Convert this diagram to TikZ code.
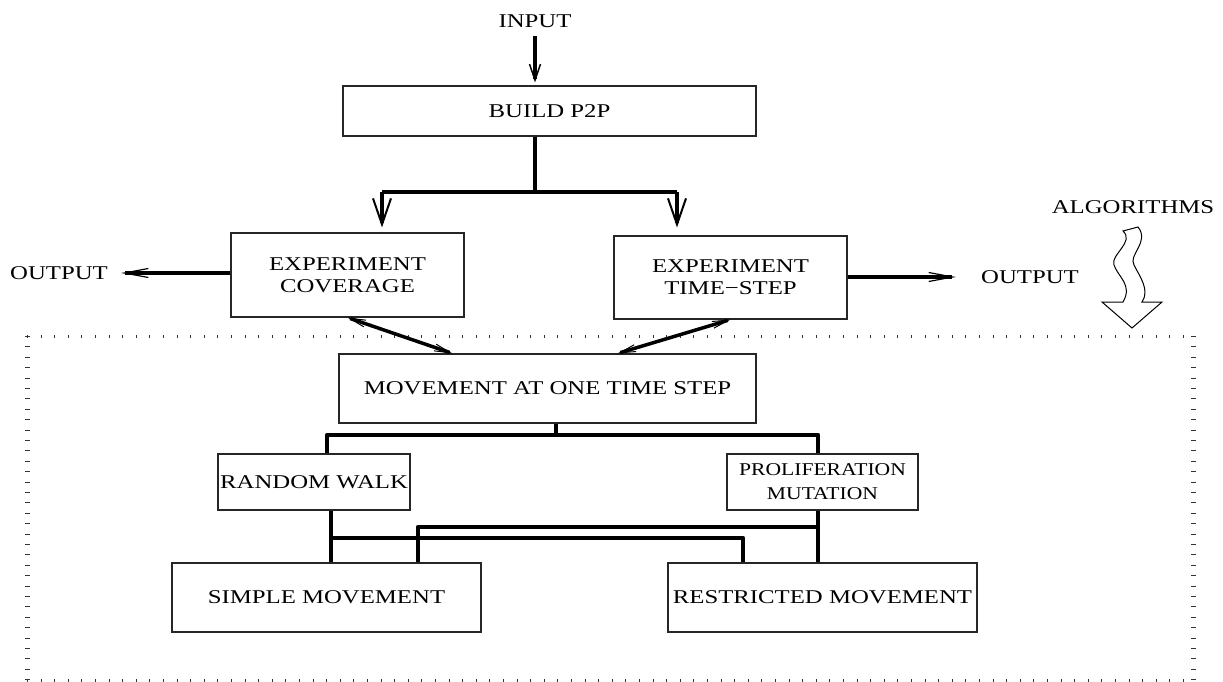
\documentclass[tikz,border=0pt]{standalone}
\usepackage{fontspec}
\setmainfont[FakeStretch=1.27]{Liberation Serif}
\newfontfamily\prolfont[FakeStretch=1.2]{Liberation Serif}
\usetikzlibrary{arrows.meta}

\begin{document}
\begin{tikzpicture}[%
    x=1pt, y=-1pt,
    font=\fontsize{19.5}{22}\selectfont,
    box/.style={draw=black!85, line width=1.1pt, rectangle, inner sep=0pt, align=center},
    tag/.style={inner sep=0pt},
    bus/.style={line width=4.3pt, line join=round},
    drop/.style={bus, -{Straight Barb[length=26pt, width=18pt, line width=2pt]}},
    feed/.style={line width=4pt, -{Straight Barb[length=16pt, width=11pt, line width=1.5pt]}},
    outarrow/.style={line width=4pt, -{Straight Barb[length=24pt, width=9pt, line width=1.2pt]}},
    link/.style={line width=3.5pt, {Straight Barb[length=16pt, width=7pt, line width=1pt]}-{Straight Barb[length=16pt, width=7pt, line width=1pt]}},
    algoframe/.style={line width=3pt, dash pattern=on 1pt off 12.6pt, black!80}
  ]
  \useasboundingbox (0,0) rectangle (1223,682);

  % dotted frame round the algorithms
  \draw[algoframe] (27,336) -- (1193,336) (27,680) -- (1193,680);
  \draw[algoframe, line width=5pt, dash pattern=on 1pt off 9.4pt] (27,336) -- (27,680) (1193,336) -- (1193,680);

  \node[tag] (input) at (535,21) {INPUT};
  \node[box, minimum width=413pt, minimum height=50pt] (build) at (549.5,111) {BUILD P2P};
  \node[box, minimum width=233pt, minimum height=84pt] (cov) at (347.5,275) {EXPERIMENT\\COVERAGE};
  \node[box, minimum width=233pt, minimum height=83pt] (tstep) at (730.5,277.5) {EXPERIMENT\\TIME−STEP};
  \node[tag] (outl) at (59,273) {OUTPUT};
  \node[tag] (outr) at (1030,277) {OUTPUT};
  \node[tag] (algo) at (1133,207) {ALGORITHMS};

  \node[box, minimum width=417pt, minimum height=69pt] (move) at (547.5,388.5) {MOVEMENT AT ONE TIME STEP};
  \node[box, minimum width=192pt, minimum height=56pt] (walk) at (314,482) {RANDOM WALK};
  \node[box, minimum width=191pt, minimum height=56pt, font=\prolfont\fontsize{18}{24}\selectfont] (prolif) at (822.5,482) {PROLIFERATION\\MUTATION};
  \node[box, minimum width=309pt, minimum height=69pt] (simple) at (326.5,597.5) {SIMPLE MOVEMENT};
  \node[box, minimum width=309pt, minimum height=69pt] (restr) at (822.5,597.5) {RESTRICTED MOVEMENT};

  \coordinate (split) at (535,192);
  \coordinate (bl) at (382,192);
  \coordinate (br) at (677,192);
  \coordinate (mj) at (556,435);
  \coordinate (wj) at (327,435);
  \coordinate (pj) at (818,435);
  \coordinate (wd) at (331,538);
  \coordinate (rd) at (743,538);
  \coordinate (pd) at (818,527);
  \coordinate (sd) at (418,527);

  % top part
  \draw[feed, shorten <=8pt, shorten >=3pt] (input.south) -- (input.south |- build.north);
  \draw[bus] (build.south -| split) -- (split);
  \draw[bus] (bl) -- (br);
  \draw[drop, shorten >=5pt] (bl) -- (bl |- cov.north);
  \draw[drop, shorten >=8pt] (br) -- (br |- tstep.north);
  \draw[outarrow, shorten >=13pt] (cov.west |- outl) -- (outl.east);
  \draw[outarrow, shorten >=25pt] (tstep.east |- outr) -- (outr.west);
  \draw[link] (cov.south) -- ([xshift=114pt]move.north west);
  \draw[link] (tstep.south) -- ([xshift=-139pt]move.north east);

  % wavy input arrow
  \draw[line width=1pt, fill=white] (1123,231) -- (1138,227)
    .. controls (1150,242) and (1128,255) .. (1134,265)
    .. controls (1140,277) and (1150,290) .. (1142,302)
    -- (1162,302) -- (1132,328) -- (1102,302) -- (1123,302)
    .. controls (1133,285) and (1118,277) .. (1114,265)
    .. controls (1110,255) and (1135,242) .. cycle;

  % movement tree
  \draw[bus] (move.south -| mj) -- (mj);
  \draw[bus] (walk.north -| wj) -- (wj) -- (pj) -- (prolif.north -| pj);
  \draw[bus] (walk.south -| wd) -- (simple.north -| wd);
  \draw[bus] (wd) -| (restr.north -| rd);
  \draw[bus] (prolif.south -| pd) -- (restr.north -| pd);
  \draw[bus] (pd) -| (simple.north -| sd);
\end{tikzpicture}
\end{document}
